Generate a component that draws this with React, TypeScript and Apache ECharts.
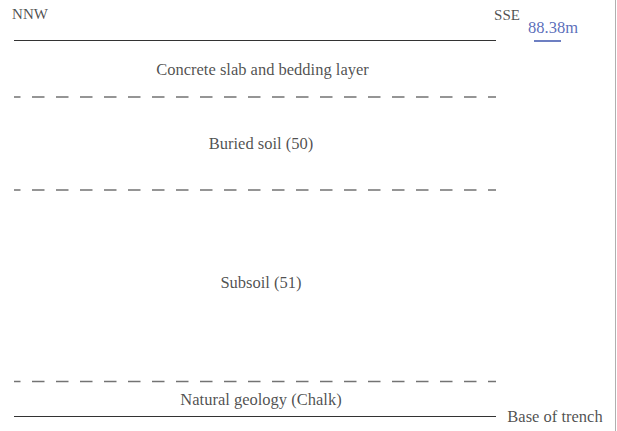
import React, { useEffect, useRef } from "react";
import * as echarts from "echarts";

// Section extent (horizontal, in drawing units) and boundary depths (vertical)
const sectionStartX = 14;
const sectionEndX = 496;
const boundaryNames = ["Top of section", "Top of buried soil", "Top of subsoil", "Top of chalk", "Base of trench"];
const boundaryDepths = [40.5, 97, 190, 381.5, 416.5];
const boundaryDashed = [false, true, true, true, false];

// Layer labels
const layerNames = ["Concrete slab and bedding layer", "Buried soil (50)", "Subsoil (51)", "Natural geology (Chalk)"];
const layerLabelDepths = [69.5, 143, 282, 399];
const layerLabelX = [262.5, 261, 261, 261];

// Orientation and level labels
const orientationNames = ["NNW", "SSE"];
const orientationX = [30, 507];
const orientationY = [14, 15];
const levelLabel = "88.38m";
const levelLabelPos = [553, 27.5];
const levelUnderline = [[534, 41], [561, 41]];
const baseLabel = "Base of trench";
const baseLabelPos = [555, 416];

const FONT = "Liberation Serif";
const INK = "#1f1f1f";
const BLUE = "#2f48a8";

export default function App() {
  const ref = useRef<HTMLDivElement>(null);
  useEffect(() => {
    if (!ref.current) return;
    const chart = echarts.init(ref.current, undefined, { renderer: "svg" });

    const lineSeries: any[] = boundaryDepths.map((d, i) => ({
      type: "line",
      name: boundaryNames[i],
      data: [[sectionStartX, d], [sectionEndX, d]],
      symbol: "none",
      silent: true,
      lineStyle: boundaryDashed[i]
        ? { color: "#737373", width: 1.5, type: [12.5, 11.5], dashOffset: 6 }
        : { color: "#333", width: 1.2, type: "solid" },
    }));

    lineSeries.push({
      type: "line",
      name: "level underline",
      data: levelUnderline,
      symbol: "none",
      silent: true,
      lineStyle: { color: BLUE, width: 1.4 },
    });

    const textPoints: any[] = [];
    layerNames.forEach((n, i) => {
      textPoints.push({ value: [layerLabelX[i], layerLabelDepths[i]], name: n, fs: 16.5, color: INK });
    });
    orientationNames.forEach((n, i) => {
      textPoints.push({ value: [orientationX[i], orientationY[i]], name: n, fs: 15, color: INK });
    });
    textPoints.push({ value: levelLabelPos, name: levelLabel, fs: 16.5, color: BLUE });
    textPoints.push({ value: baseLabelPos, name: baseLabel, fs: 16.5, color: INK });

    const scatter = {
      type: "scatter",
      symbolSize: 1,
      silent: true,
      itemStyle: { color: "rgba(0,0,0,0)" },
      data: textPoints.map((p) => ({
        value: p.value,
        name: p.name,
        label: {
          show: true,
          position: "inside",
          formatter: p.name,
          fontSize: p.fs,
          fontFamily: FONT,
          color: p.color,
          align: "center",
          verticalAlign: "middle",
        },
      })),
    };

    chart.setOption({
      animation: false,
      backgroundColor: "#ffffff",
      textStyle: { fontFamily: FONT },
      grid: { left: 0, right: 0, top: 0, bottom: 0 },
      xAxis: { type: "value", min: 0, max: 617, show: false },
      yAxis: { type: "value", min: 0, max: 431, inverse: true, show: false },
      graphic: [
        {
          type: "line",
          shape: { x1: 615.5, y1: 0, x2: 615.5, y2: 431 },
          style: { stroke: "#b0b0b0", lineWidth: 1 },
          silent: true,
        },
      ],
      series: [...lineSeries, scatter],
    });
    return () => chart.dispose();
  }, []);
  return (
    <div
      ref={ref}
      style={{ position: "fixed", left: 0, top: 0, width: 617, height: 431, background: "#fff" }}
    />
  );
}
